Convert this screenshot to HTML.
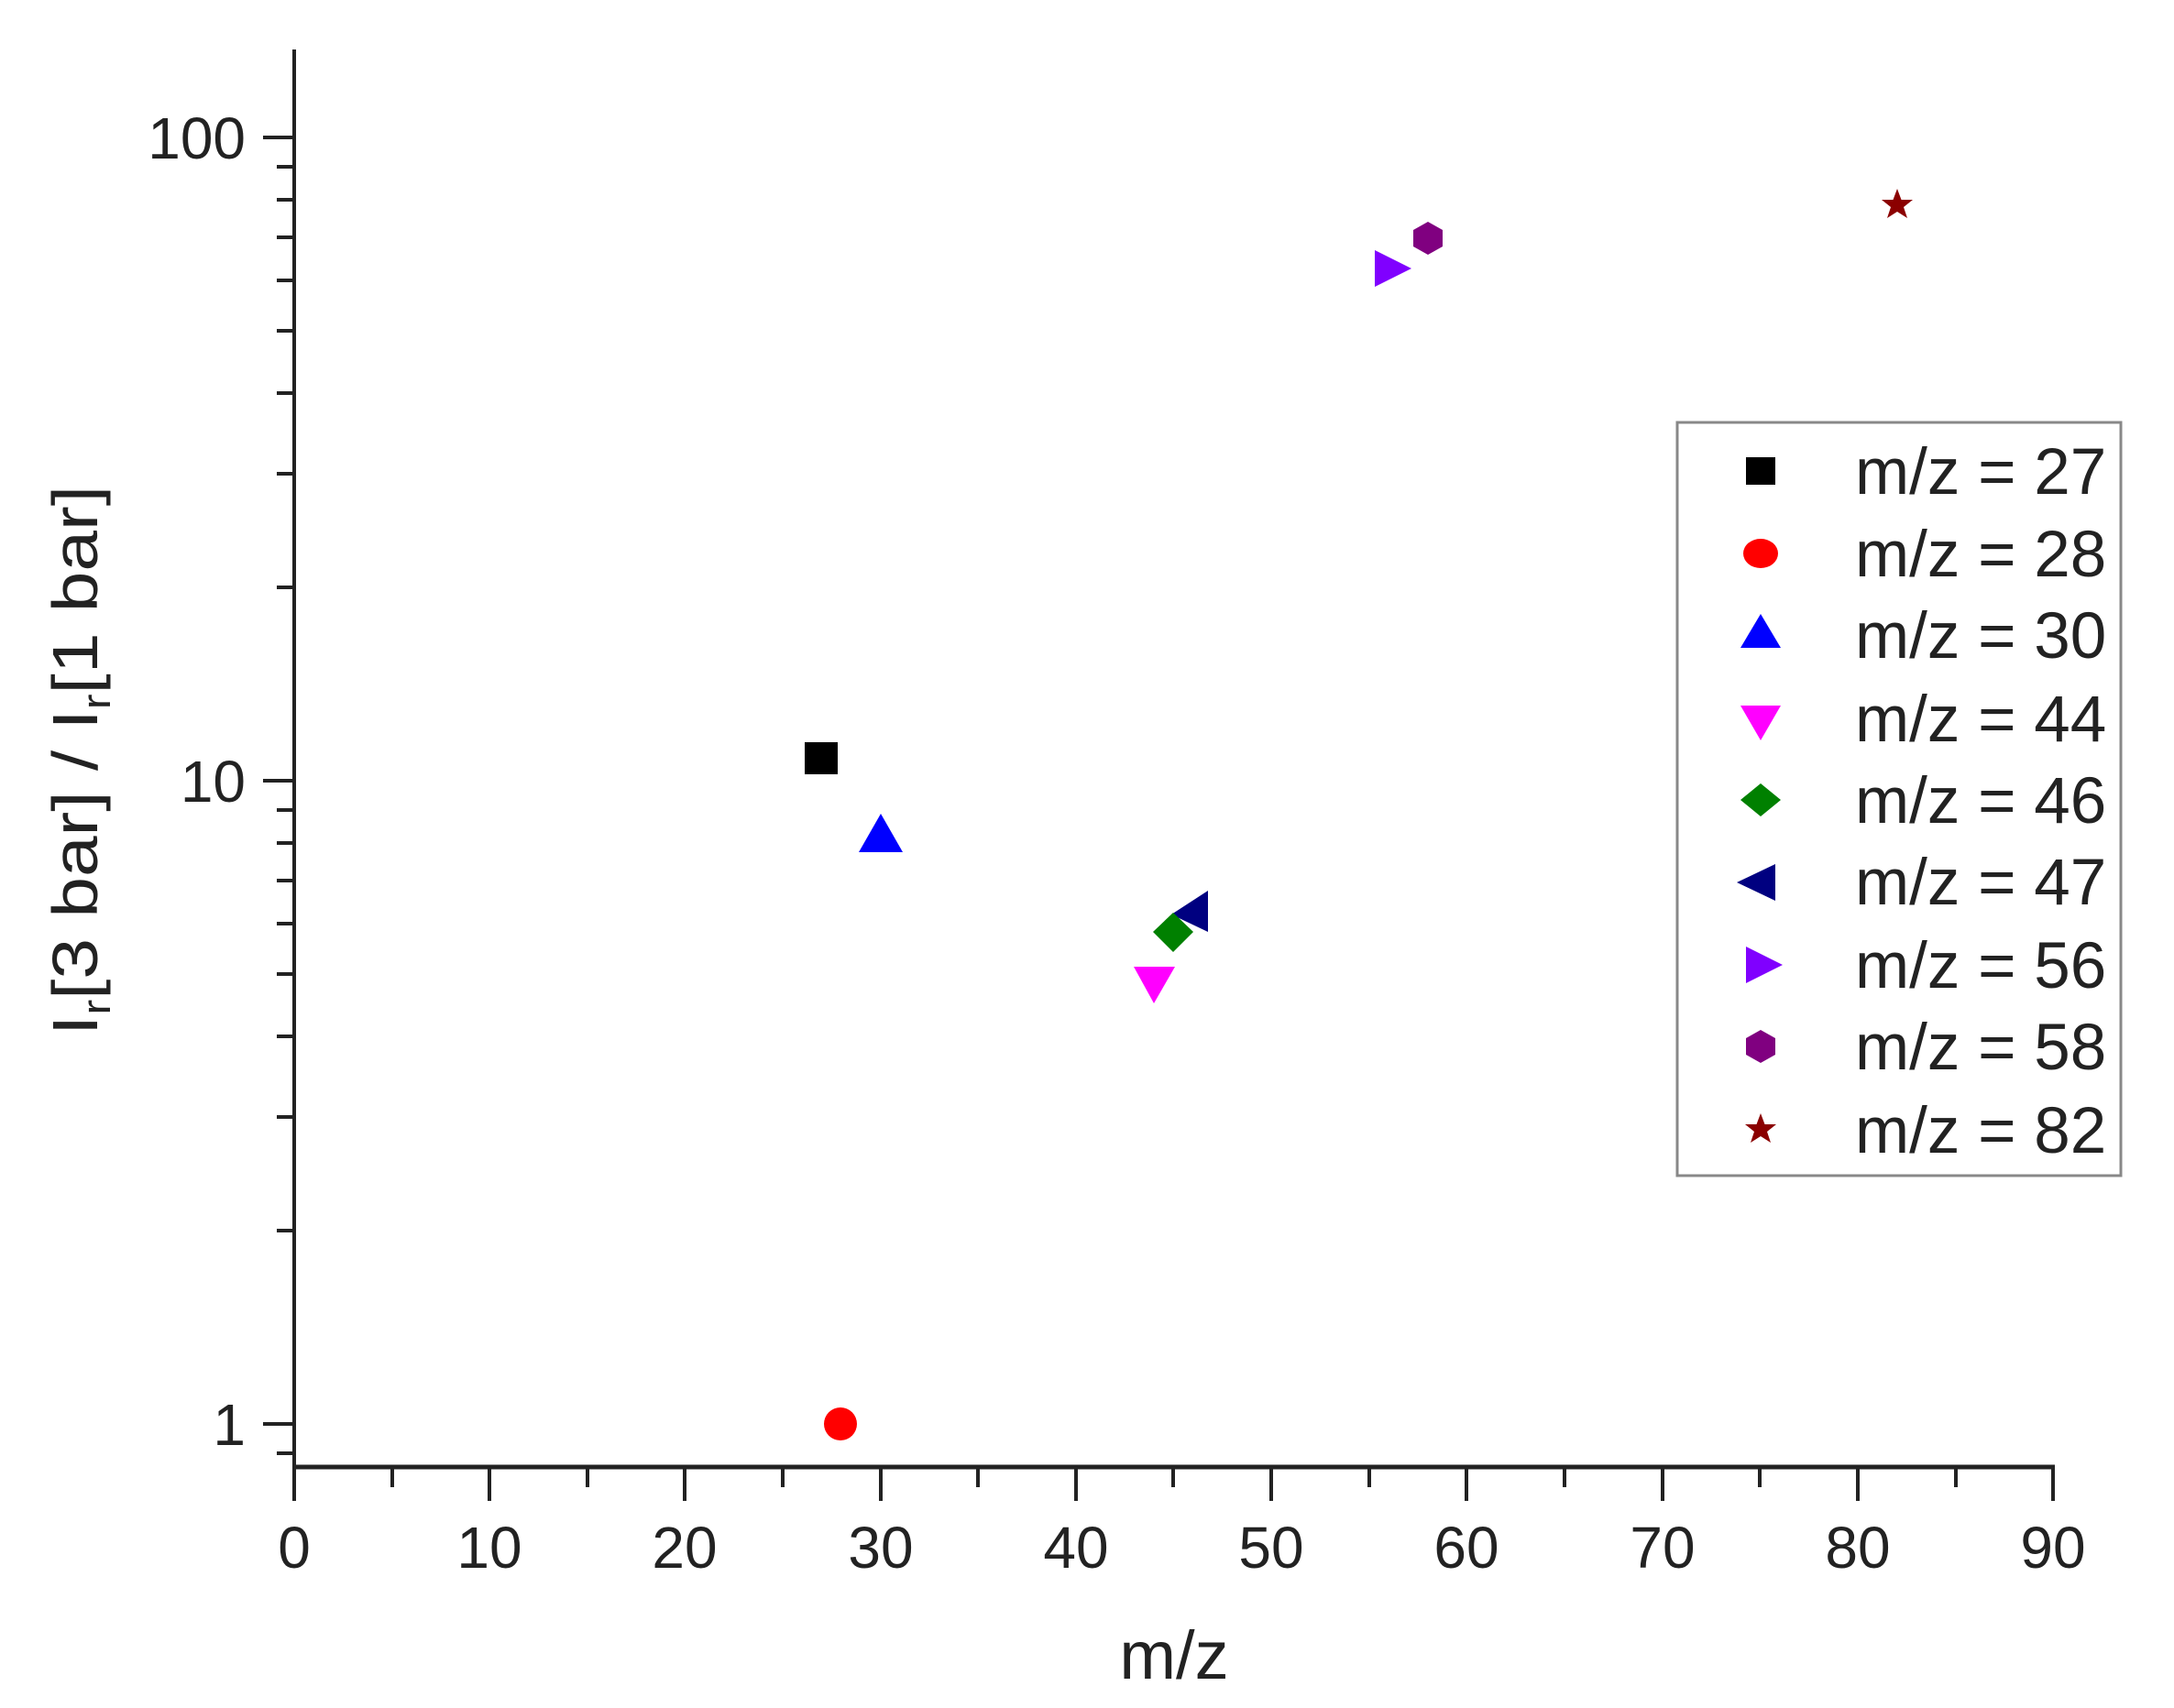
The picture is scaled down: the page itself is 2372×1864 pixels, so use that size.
<!DOCTYPE html>
<html><head><meta charset="utf-8"><style>
html,body{margin:0;padding:0;background:#fff;}
svg{display:block;}
text{font-family:"Liberation Sans",Arial,sans-serif;fill:#222;}
</style></head><body>
<svg width="2372" height="1864" viewBox="0 0 2372 1864" xmlns="http://www.w3.org/2000/svg">
<g stroke="#222" stroke-width="4" fill="none">
<line x1="321" y1="54" x2="321" y2="1603"/>
<line x1="319" y1="1601" x2="2242" y2="1601" stroke-width="5"/>
<line x1="287" y1="150" x2="321" y2="150"/>
<line x1="287" y1="852" x2="321" y2="852"/>
<line x1="287" y1="1554" x2="321" y2="1554"/>
<line x1="302" y1="1586" x2="321" y2="1586"/>
<line x1="302" y1="1343" x2="321" y2="1343"/>
<line x1="302" y1="1219" x2="321" y2="1219"/>
<line x1="302" y1="1131" x2="321" y2="1131"/>
<line x1="302" y1="1063" x2="321" y2="1063"/>
<line x1="302" y1="1008" x2="321" y2="1008"/>
<line x1="302" y1="961" x2="321" y2="961"/>
<line x1="302" y1="920" x2="321" y2="920"/>
<line x1="302" y1="884" x2="321" y2="884"/>
<line x1="302" y1="641" x2="321" y2="641"/>
<line x1="302" y1="517" x2="321" y2="517"/>
<line x1="302" y1="429" x2="321" y2="429"/>
<line x1="302" y1="361" x2="321" y2="361"/>
<line x1="302" y1="306" x2="321" y2="306"/>
<line x1="302" y1="259" x2="321" y2="259"/>
<line x1="302" y1="218" x2="321" y2="218"/>
<line x1="302" y1="182" x2="321" y2="182"/>
<line x1="321" y1="1601" x2="321" y2="1638"/>
<line x1="534" y1="1601" x2="534" y2="1638"/>
<line x1="747" y1="1601" x2="747" y2="1638"/>
<line x1="961" y1="1601" x2="961" y2="1638"/>
<line x1="1174" y1="1601" x2="1174" y2="1638"/>
<line x1="1387" y1="1601" x2="1387" y2="1638"/>
<line x1="1600" y1="1601" x2="1600" y2="1638"/>
<line x1="1814" y1="1601" x2="1814" y2="1638"/>
<line x1="2027" y1="1601" x2="2027" y2="1638"/>
<line x1="2240" y1="1601" x2="2240" y2="1638"/>
<line x1="428" y1="1601" x2="428" y2="1623"/>
<line x1="641" y1="1601" x2="641" y2="1623"/>
<line x1="854" y1="1601" x2="854" y2="1623"/>
<line x1="1067" y1="1601" x2="1067" y2="1623"/>
<line x1="1280" y1="1601" x2="1280" y2="1623"/>
<line x1="1494" y1="1601" x2="1494" y2="1623"/>
<line x1="1707" y1="1601" x2="1707" y2="1623"/>
<line x1="1920" y1="1601" x2="1920" y2="1623"/>
<line x1="2134" y1="1601" x2="2134" y2="1623"/>
</g>
<g font-size="64" text-anchor="end">
<text x="268" y="173">100</text>
<text x="268" y="875">10</text>
<text x="268" y="1577">1</text>
</g>
<g font-size="64" text-anchor="middle">
<text x="321" y="1711">0</text>
<text x="534" y="1711">10</text>
<text x="747" y="1711">20</text>
<text x="961" y="1711">30</text>
<text x="1174" y="1711">40</text>
<text x="1387" y="1711">50</text>
<text x="1600" y="1711">60</text>
<text x="1814" y="1711">70</text>
<text x="2027" y="1711">80</text>
<text x="2240" y="1711">90</text>
</g>
<text x="1281" y="1832" font-size="74" text-anchor="middle">m/z</text>
<text transform="translate(106,830) rotate(-90)" font-size="70" text-anchor="middle" textLength="600" lengthAdjust="spacingAndGlyphs">I<tspan font-size="44" dy="14">r</tspan><tspan dy="-14">[3 bar] / I</tspan><tspan font-size="44" dy="14">r</tspan><tspan dy="-14">[1 bar]</tspan></text>
<rect x="878" y="810" width="36" height="35" fill="#000"/>
<circle cx="917" cy="1554" r="18" fill="#f00"/>
<polygon points="961,888 985,930 937,930" fill="#00f"/>
<polygon points="1237,1055 1282,1055 1259,1095" fill="#f0f"/>
<polygon points="1318,972 1318,1017 1278,998" fill="#000080"/>
<polygon points="1280,996 1302,1017 1280,1039 1258,1017" fill="#008000"/>
<polygon points="1500,273 1540,293 1500,313" fill="#8000ff"/>
<polygon points="1558,242 1574,251 1574,269 1558,278 1542,269 1542,251" fill="#800080"/>
<polygon points="2070,206 2074.5,218 2087,218 2077,226 2081,238 2070,231 2059,238 2063,226 2053,218 2065.5,218" fill="#8b0000"/>
<rect x="1830" y="461" width="484" height="822" fill="#fff" stroke="#888" stroke-width="3"/>
<rect x="1905" y="499" width="32" height="30" fill="#000"/>
<ellipse cx="1921" cy="604" rx="19" ry="16" fill="#f00"/>
<polygon points="1921,670 1943,707 1899,707" fill="#00f"/>
<polygon points="1899,770 1943,770 1921,808" fill="#f0f"/>
<polygon points="1921,855 1943,873 1921,891 1899,873" fill="#008000"/>
<polygon points="1937,943 1937,983 1895,963" fill="#000080"/>
<polygon points="1905,1033 1945,1053 1905,1073" fill="#8000ff"/>
<polygon points="1921,1124 1937,1133 1937,1151 1921,1160 1905,1151 1905,1133" fill="#800080"/>
<polygon points="1921,1215 1925.5,1227 1938,1227 1928,1235 1932,1247 1921,1240 1910,1247 1914,1235 1904,1227 1916.5,1227" fill="#8b0000"/>
<g font-size="71">
<text x="2024" y="539">m/z = 27</text>
<text x="2024" y="629">m/z = 28</text>
<text x="2024" y="718">m/z = 30</text>
<text x="2024" y="809">m/z = 44</text>
<text x="2024" y="898">m/z = 46</text>
<text x="2024" y="987">m/z = 47</text>
<text x="2024" y="1078">m/z = 56</text>
<text x="2024" y="1167">m/z = 58</text>
<text x="2024" y="1258">m/z = 82</text>
</g>
</svg>
</body></html>
